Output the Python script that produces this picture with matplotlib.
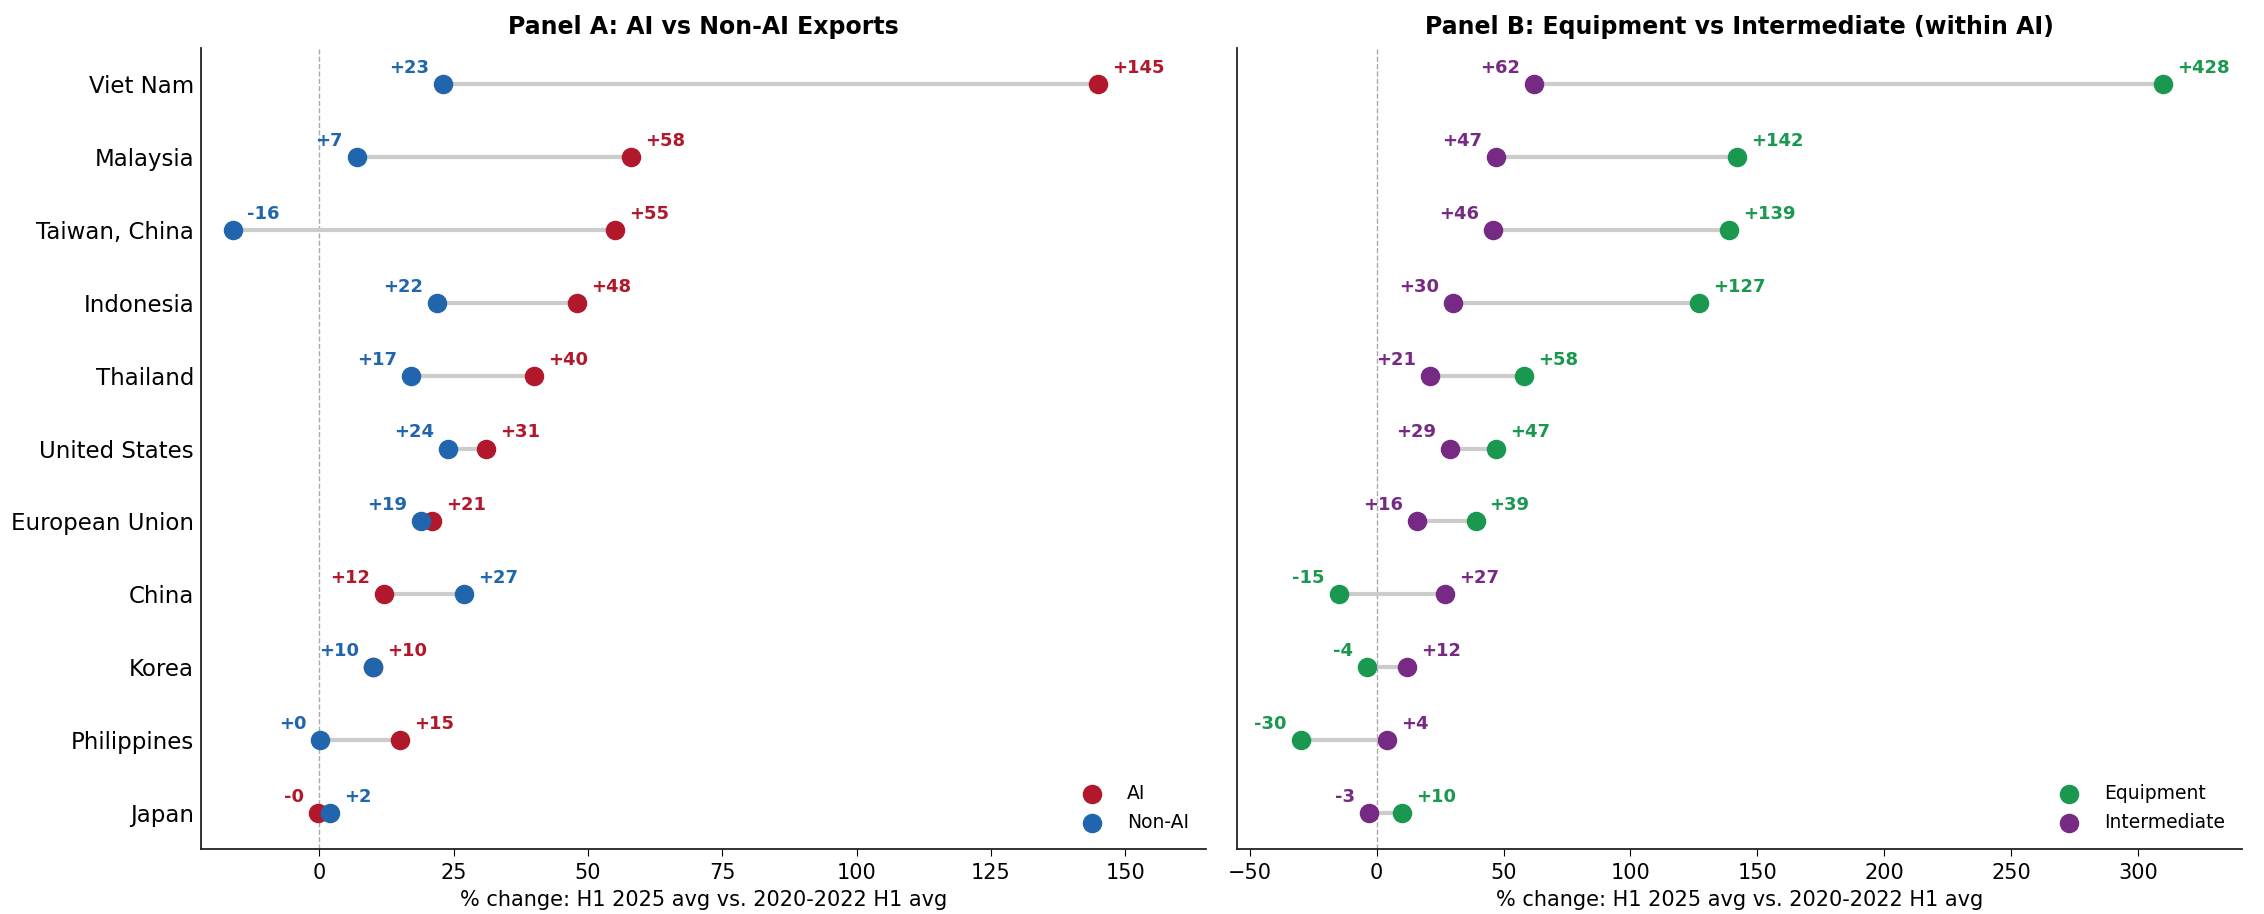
import matplotlib
matplotlib.use("Agg")
import matplotlib.pyplot as plt
import numpy as np

# Countries, top to bottom
countries = ["Viet Nam", "Malaysia", "Taiwan, China", "Indonesia", "Thailand",
             "United States", "European Union", "China", "Korea", "Philippines", "Japan"]

# Panel A: % change, AI vs non-AI exports
ai = [145, 58, 55, 48, 40, 31, 21, 12, 10, 15, -0.3]
non_ai = [23, 7, -16, 22, 17, 24, 19, 27, 10, 0.2, 2]

# Panel B: % change within AI, equipment vs intermediate
equipment = [428, 142, 139, 127, 58, 47, 39, -15, -4, -30, 10]
intermediate = [62, 47, 46, 30, 21, 29, 16, 27, 12, 4, -3]

# very large changes are drawn at the cap, their labels keep the true value
CAP = 310

RED = "#b2182b"
BLUE = "#2166ac"
GREEN = "#1a9850"
PURPLE = "#762a83"

plt.rcParams["font.family"] = ["DejaVu Sans"]


def dumbbell(ax, first, second, names, colors, title, xlim):
    y = np.arange(len(countries))
    a = np.minimum(np.array(first, dtype=float), CAP)
    b = np.minimum(np.array(second, dtype=float), CAP)

    ax.axvline(0, color="#aaaaaa", linestyle="--", linewidth=1, zorder=0)
    ax.hlines(y, np.minimum(a, b), np.maximum(a, b), color="#cccccc", linewidth=3, zorder=1)
    ax.scatter(a, y, s=170, color=colors[0], label=names[0], zorder=3)
    ax.scatter(b, y, s=170, color=colors[1], label=names[1], zorder=3)

    # the larger value gets its label on the right, the other on the left,
    # unless a left label would run into the axis edge
    span = xlim[1] - xlim[0]
    for i in range(len(y)):
        va, vb = first[i], second[i]
        for val, pos, col, right in ((va, a[i], colors[0], va >= vb),
                                     (vb, b[i], colors[1], vb > va)):
            if not right and (pos - xlim[0]) / span < 0.05:
                right = True
            ax.annotate(f"{val:+.0f}", (pos, y[i]),
                        xytext=(10 if right else -10, 8), textcoords="offset points",
                        ha="left" if right else "right", va="baseline",
                        fontsize=13, fontweight="bold", color=col)

    ax.set_xlim(*xlim)
    ax.set_ylim(len(countries) - 0.5, -0.5)
    ax.set_yticks(y)
    ax.tick_params(axis="y", length=0, labelsize=16.5, pad=5)
    ax.tick_params(axis="x", labelsize=15, length=5, pad=5)
    ax.set_xlabel("% change: H1 2025 avg vs. 2020-2022 H1 avg", fontsize=15, labelpad=5)
    ax.set_title(title, fontsize=17, fontweight="bold", pad=10)
    for side in ("top", "right"):
        ax.spines[side].set_visible(False)
    for side in ("left", "bottom"):
        ax.spines[side].set_linewidth(1.3)
        ax.spines[side].set_color("#222222")
    ax.legend(loc="lower right", frameon=False, fontsize=13.5, handletextpad=0.85,
              borderaxespad=0.5, labelspacing=0.55)


fig, (ax1, ax2) = plt.subplots(1, 2, figsize=(22.64, 9.14), dpi=100, sharey=True)
fig.subplots_adjust(left=0.0888, right=0.9903, top=0.9475, bottom=0.071, wspace=0.031)

dumbbell(ax1, ai, non_ai, ["AI", "Non-AI"], [RED, BLUE],
         "Panel A: AI vs Non-AI Exports", (-22, 165))
dumbbell(ax2, equipment, intermediate, ["Equipment", "Intermediate"], [GREEN, PURPLE],
         "Panel B: Equipment vs Intermediate (within AI)", (-55, 341))

ax1.set_yticklabels(countries)
ax2.tick_params(axis="y", labelleft=False)

fig.savefig("out.png", dpi=100)
